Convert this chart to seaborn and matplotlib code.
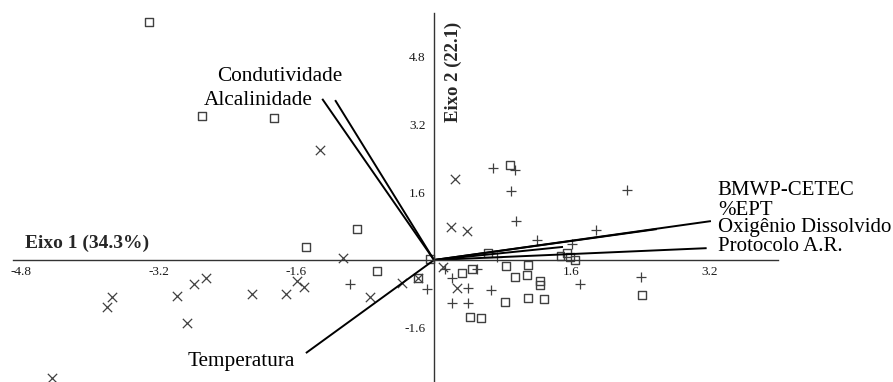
import numpy as np
import pandas as pd
import seaborn as sns
import matplotlib.pyplot as plt

# site scores (three groups of sites)
sq_x = [-3.31, -2.70, -1.86, -0.90, -1.49, -0.66, -0.19, -0.05,
        0.33, 0.44, 0.63, 0.84, 1.09, 0.94, 1.08, 1.23, 1.23, 0.83, 1.09, 1.28,
        0.42, 0.55, 1.47, 1.55, 1.58, 1.64, 2.42, 0.88]
sq_y = [5.63, 3.40, 3.36, 0.73, 0.31, -0.26, -0.43, 0.02,
        -0.31, -0.21, 0.17, -0.14, -0.12, -0.40, -0.35, -0.50, -0.59, -0.99, -0.90, -0.92,
        -1.35, -1.37, 0.09, 0.17, 0.07, 0.00, -0.83, 2.25]

x_x = [-1.33, -4.44, -3.80, -3.74, -2.99, -2.87, -2.79, -2.65, -2.12, -1.72,
       -1.59, -1.51, -1.06, -0.74, -0.37, -0.19, 0.24, 0.20, 0.38, 0.10, 0.27]
x_y = [2.60, -2.79, -1.11, -0.87, -0.85, -1.49, -0.57, -0.43, -0.80, -0.80,
       -0.49, -0.64, 0.05, -0.87, -0.55, -0.43, 1.91, 0.78, 0.69, -0.16, -0.66]

pl_x = [0.68, 0.94, 0.89, 2.24, 0.95, 1.20, 1.88, 1.60, 1.70, 2.41, -0.08,
        0.21, 0.13, 0.40, 0.66, 0.21, 0.40, 0.50, 0.73, -0.98]
pl_y = [2.17, 2.13, 1.63, 1.65, 0.92, 0.47, 0.71, 0.38, -0.57, -0.40, -0.69,
        -0.43, -0.22, -0.67, -0.71, -1.01, -1.01, -0.22, 0.07, -0.57]

# environmental vectors
var_names = ['Condutividade', 'Alcalinidade', 'Temperatura', 'BMWP-CETEC',
             '%EPT', 'Oxigênio Dissolvido', 'Protocolo A.R.']
var_x = [-1.15, -1.30, -1.49, 2.59, 1.50, 3.22, 3.17]
var_y = [3.78, 3.81, -2.20, 0.73, 0.31, 0.92, 0.28]
lab_x = [-2.52, -2.68, -2.87, 3.30, 3.30, 3.30, 3.30]
lab_y = [4.33, 3.78, -2.41, 1.65, 1.18, 0.76, 0.31]
lab_size = [15.3, 15.3, 15.3, 15, 15, 15, 15]

sns.set_style('white')
plt.rcParams['font.family'] = ['Liberation Serif', 'DejaVu Serif']

fig = plt.figure(figsize=(8.93, 3.82), dpi=100)
ax = fig.add_axes([0, 0, 1, 1])

pt_col = '#404040'
sns.scatterplot(x=sq_x, y=sq_y, marker='s', s=32, facecolors='none',
                edgecolor=pt_col, linewidth=1.0, ax=ax)
sns.scatterplot(x=x_x, y=x_y, marker='x', s=45, color=pt_col, linewidth=0.9, ax=ax)
sns.scatterplot(x=pl_x, y=pl_y, marker='+', s=50, color=pt_col, linewidth=0.9, ax=ax)

for vx, vy in zip(var_x, var_y):
    ax.plot([0, vx], [0, vy], color='black', lw=1.4, solid_capstyle='butt')

for name, tx, ty, fs in zip(var_names, lab_x, lab_y, lab_size):
    ax.text(tx, ty, name, fontsize=fs, ha='left', va='center', color='black')

ax.set_xlim(-5.047, 5.337)
ax.set_ylim(-2.884, 6.147)

for side in ['top', 'right']:
    ax.spines[side].set_visible(False)
ax.spines['left'].set_position(('data', 0))
ax.spines['bottom'].set_position(('data', 0))
ax.spines['bottom'].set_bounds(-4.9, 4.0)
ax.spines['left'].set_bounds(-2.884, 5.84)
for side in ['left', 'bottom']:
    ax.spines[side].set_color('#333333')
    ax.spines[side].set_linewidth(1.0)

ax.set_xticks([-4.8, -3.2, -1.6, 1.6, 3.2])
ax.set_yticks([-1.6, 1.6, 3.2, 4.8])
ax.set_xticklabels(['-4.8', '-3.2', '-1.6', '1.6', '3.2'])
ax.set_yticklabels(['-1.6', '1.6', '3.2', '4.8'])
ax.tick_params(axis='x', direction='out', length=3, pad=1, labelsize=9.5, colors='#1a1a1a')
ax.tick_params(axis='y', direction='out', length=4, pad=2, labelsize=9.5, colors='#1a1a1a')
ax.grid(False)

ax.text(-4.76, 0.40, 'Eixo 1 (34.3%)', fontsize=14, fontweight='bold',
        ha='left', va='center')
ax.text(0.22, 4.44, 'Eixo 2 (22.1)', fontsize=13.5, fontweight='bold',
        rotation=90, ha='center', va='center')

fig.savefig('out.png', dpi=100)
